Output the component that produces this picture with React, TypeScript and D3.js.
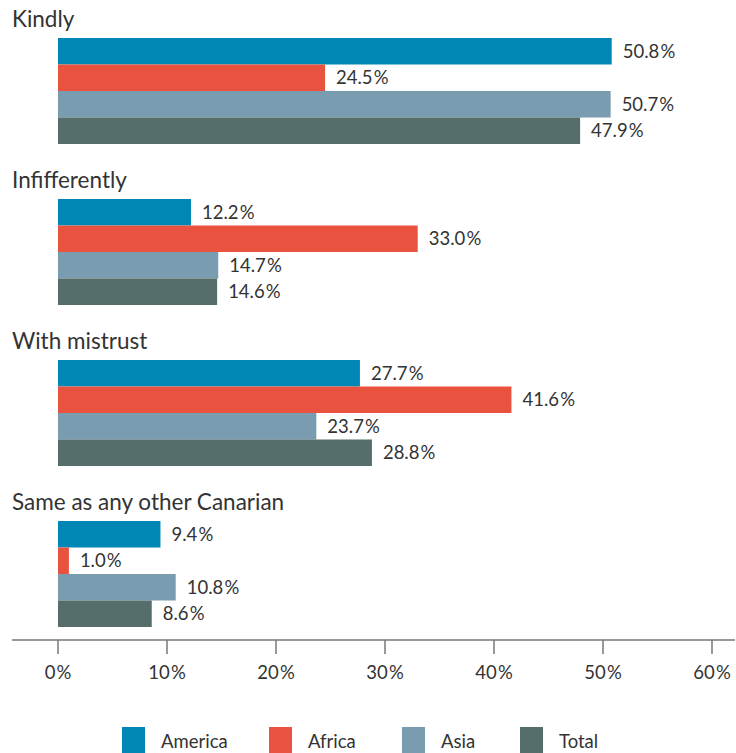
import React from "react";
import * as d3 from "d3";

const categories = ["Kindly", "Infifferently", "With mistrust", "Same as any other Canarian"];
const seriesNames = ["America", "Africa", "Asia", "Total"];
const america = [50.8, 12.2, 27.7, 9.4];
const africa = [24.5, 33.0, 41.6, 1.0];
const asia = [50.7, 14.7, 23.7, 10.8];
const total = [47.9, 14.6, 28.8, 8.6];
const tickValues = [0, 10, 20, 30, 40, 50, 60];
const colors = ["#0087b5", "#e9523f", "#7a9cb0", "#556e6b"];

const seriesValues = [america, africa, asia, total];

export default function App() {
  const W = 736;
  const H = 753;
  const x = d3.scaleLinear().domain([0, 60]).range([58, 712]);
  const groupY = d3.scaleBand<string>().domain(categories).range([38, 38 + 161 * 4]).paddingInner(0).paddingOuter(0);
  const barY = d3.scaleBand<string>().domain(seriesNames).range([0, 106]);
  const font = "Lato, 'Open Sans', sans-serif";
  const textColor = "#333";
  const legendX = [122, 269, 402, 520];

  return (
    <svg width={W} height={H} style={{ position: "absolute", left: 0, top: 0, background: "#fff" }} fontFamily={font}>
      {categories.map((cat, ci) => {
        const gy = groupY(cat)!;
        return (
          <g key={cat}>
            <text x={12} y={gy - 11} fontSize={22.5} fill={textColor}>{cat}</text>
            {seriesNames.map((s, si) => {
              const v = seriesValues[si][ci];
              const y0 = gy + barY(s)!;
              return (
                <g key={s}>
                  <rect x={x(0)} y={y0} width={x(v) - x(0)} height={barY.bandwidth()} fill={colors[si]} />
                  <text x={x(v) + 11} y={y0 + barY.bandwidth() / 2} dy="0.36em" fontSize={18.5} fill={textColor}>
                    {v.toFixed(1) + "\u200A%"}
                  </text>
                </g>
              );
            })}
          </g>
        );
      })}
      <line x1={12} x2={735} y1={640} y2={640} stroke="#777" strokeWidth={1.5} />
      {tickValues.map((t) => (
        <g key={t}>
          <line x1={x(t)} x2={x(t)} y1={640} y2={654} stroke="#777" strokeWidth={1.5} />
          <text x={x(t)} y={679} textAnchor="middle" fontSize={18.5} fill={textColor}>{t + "\u200A%"}</text>
        </g>
      ))}
      {seriesNames.map((s, si) => (
        <g key={s}>
          <rect x={legendX[si]} y={727} width={23} height={26} fill={colors[si]} />
          <text x={legendX[si] + 39} y={748} fontSize={18.5} fill={textColor}>{s}</text>
        </g>
      ))}
    </svg>
  );
}
